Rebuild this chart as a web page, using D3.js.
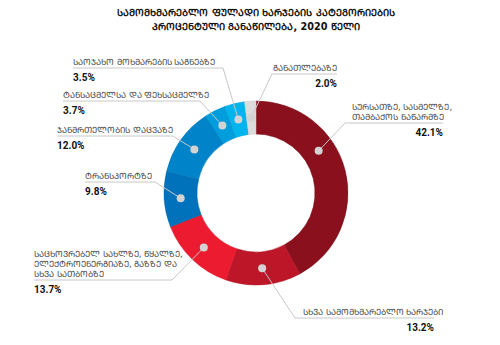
<!DOCTYPE html>
<html><head><meta charset="utf-8">
<script src="https://cdn.jsdelivr.net/npm/d3@7"></script>
<style>
html,body{margin:0;padding:0;background:#fff;}
svg{display:block;font-family:"DejaVu Sans","Noto Sans",sans-serif;}
</style></head>
<body><svg id="c" width="500" height="345"></svg>
<script>
// ---- data ----
const titleLines = ["სამომხმარებლო ფულადი ხარჯების კატეგორიების", "პროცენტული განაწილება, 2020 წელი"];
const categories = [
  ["სურსათზე, სასმელზე,", "თამბაქოს ნაწარმზე"],
  ["სხვა სამომხმარებლო ხარჯები"],
  ["საცხოვრებელ სახლზე, წყალზე,", "ელექტროენერგიაზე, გაზზე და", "სხვა სათბობზე"],
  ["ტრანსპორტზე"],
  ["ჯანმრთელობის დაცვაზე"],
  ["ტანსაცმელსა და ფეხსაცმელზე"],
  ["საოჯახო მოხმარების საგნებზე"],
  ["განათლებაზე"]
];
const values = [42.1, 13.2, 13.7, 9.8, 12.0, 3.7, 3.5, 2.0];
const colors = ["#8a101d", "#bd1628", "#ed1b2f", "#0071bb", "#0083c9", "#009ddc", "#00b4ee", "#dcdcdc"];

// ---- layout (annotation placement, not data) ----
// elbow of each leader line, end of underline, text anchor of the name
const labelLayout = [
  {ex: 345, ey: 123, x2: 443, nameAnchor: "start", nameX: 352},
  {ex: 295, ey: 318, x2: 434, nameAnchor: "start", nameX: 303},
  {ex: 172, ey: 280, x2: 34, nameAnchor: "start", nameX: 34},
  {ex: 155, ey: 182, x2: 85, nameAnchor: "start", nameX: 85},
  {ex: 173, ey: 136, x2: 57, nameAnchor: "start", nameX: 57},
  {ex: 200, ey: 101, x2: 63, nameAnchor: "start", nameX: 63},
  {ex: 223, ey: 68, x2: 73, nameAnchor: "start", nameX: 73},
  {ex: 272, ey: 74, x2: 337, nameAnchor: "end", nameX: 337}
];
const dotFraction = [0.37, 0.5, 0.5, 0.5, 0.5, 0.5, 0.5, 0.5];

const toMtavruli = s => Array.from(s).map(ch => {
  const c = ch.codePointAt(0);
  return (c >= 0x10D0 && c <= 0x10FA) ? String.fromCodePoint(c + 0xBC0) : ch;
}).join("");

const svg = d3.select("#c");
const cx = 256, cy = 193, rOuter = 92, rInner = 59;

svg.append("g").selectAll("text").data(titleLines).join("text")
  .attr("x", cx).attr("y", (d, i) => 16 + i * 13.5)
  .attr("text-anchor", "middle").attr("font-size", 9.7).attr("font-weight", "bold")
  .attr("fill", "#111").text(d => toMtavruli(d));

const pie = d3.pie().sort(null).value(d => d)(values);
const arc = d3.arc().innerRadius(rInner).outerRadius(rOuter);
const g = svg.append("g").attr("transform", `translate(${cx},${cy})`);

g.selectAll("path").data(pie).join("path")
  .attr("d", arc)
  .attr("fill", (d, i) => colors[i])
  .attr("stroke", (d, i) => d3.color(colors[i]).darker(0.25))
  .attr("stroke-width", 0.5);

const rMid = (rInner + rOuter) / 2;
const dotPos = pie.map((d, i) => {
  const a = d.startAngle + (d.endAngle - d.startAngle) * dotFraction[i];
  return [cx + rMid * Math.sin(a), cy - rMid * Math.cos(a)];
});

const leaders = svg.append("g");
pie.forEach((d, i) => {
  const L = labelLayout[i], p = dotPos[i];
  leaders.append("polyline")
    .attr("points", `${p[0]},${p[1]} ${L.ex},${L.ey} ${L.x2},${L.ey}`)
    .attr("fill", "none").attr("stroke", "#c8c8c8").attr("stroke-width", 1);
});
svg.append("g").selectAll("circle").data(dotPos).join("circle")
  .attr("cx", d => d[0]).attr("cy", d => d[1]).attr("r", 4)
  .attr("fill", "#d3d3d3");

const lab = svg.append("g");
pie.forEach((d, i) => {
  const L = labelLayout[i];
  const nameLines = categories[i];
  const n = nameLines.length;
  nameLines.forEach((ln, k) => {
    lab.append("text")
      .attr("x", L.nameX)
      .attr("y", L.ey - 3 - (n - 1 - k) * 10)
      .attr("text-anchor", L.nameAnchor)
      .attr("font-size", 8.5).attr("fill", "#4a4a4a")
      .text(toMtavruli(ln));
  });
  const valAnchor = L.x2 > L.ex ? "end" : "start";
  lab.append("text")
    .attr("x", L.x2).attr("y", L.ey + 12.5)
    .attr("text-anchor", valAnchor)
    .attr("font-family", "Roboto, sans-serif")
    .attr("font-size", 10).attr("font-weight", "bold").attr("fill", "#111")
    .text(d3.format(".1f")(values[i]) + "%");
});
</script></body></html>
